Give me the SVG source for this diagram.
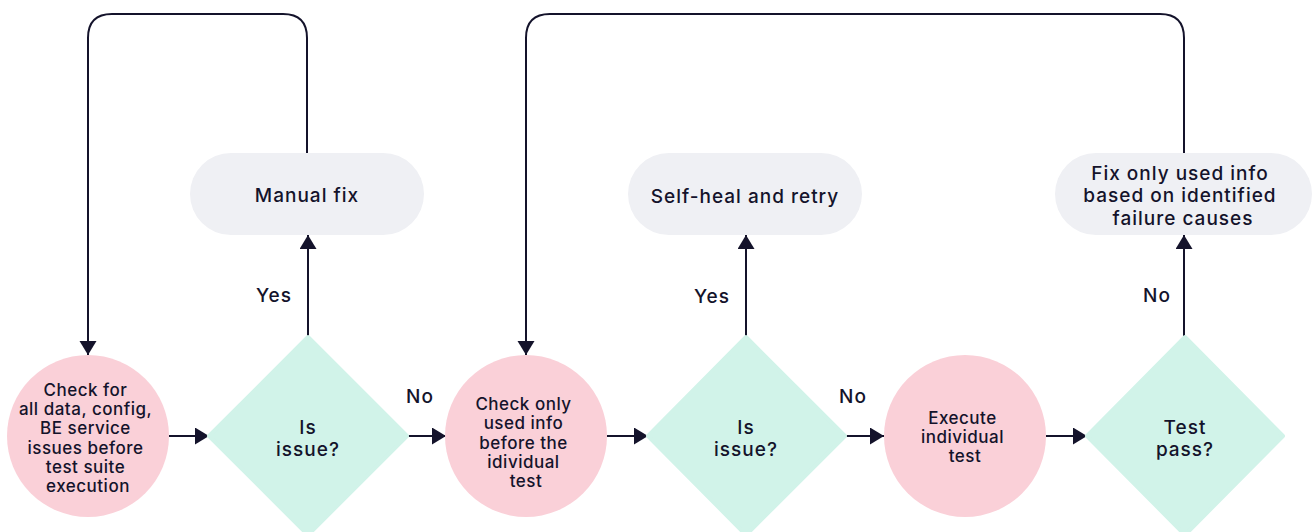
<svg xmlns="http://www.w3.org/2000/svg" width="1312" height="532" viewBox="0 0 1312 532">
  <style>
    .lbl { font-family: Inter, "Noto Sans", "Liberation Sans", sans-serif; font-weight: 500; fill: #14132b; text-anchor: middle; }
    .circ { fill: #fad0d8; }
    .dia { fill: #d1f3e9; stroke: #d1f3e9; stroke-width: 4; stroke-linejoin: round; }
    .pill { fill: #eff0f4; }
    .t15 { font-size: 17px; letter-spacing: 0.5px; }
    .t17 { font-size: 19px; letter-spacing: 1px; }
    .edge { fill: none; stroke: #14132b; stroke-width: 2; marker-end: url(#arrow); }
  </style>
  <defs>
    <marker id="arrow" markerUnits="userSpaceOnUse" markerWidth="15" markerHeight="18" refX="14" refY="8.5" orient="auto">
      <path d="M0,0 L14,8.5 L0,17 z" fill="#14132b"/>
    </marker>
  </defs>
  <rect width="1312" height="532" fill="#ffffff"/>

  <g id="connectors">
    <path class="edge" d="M169,436 H209"/>
    <path class="edge" d="M407,436 H446"/>
    <path class="edge" d="M607,436 H648"/>
    <path class="edge" d="M845,436 H884"/>
    <path class="edge" d="M1046,436 H1087"/>
    <path class="edge" d="M308,337 V235"/>
    <path class="edge" d="M746,337 V235"/>
    <path class="edge" d="M1184,337 V235"/>
    <path class="edge" d="M307,153 V38 Q307,14 283,14 H112 Q88,14 88,38 V355"/>
    <path class="edge" d="M1184,153 V38 Q1184,14 1160,14 H550 Q526,14 526,38 V355"/>
    <text class="lbl t17" x="274" y="302">Yes</text>
    <text class="lbl t17" x="712" y="303">Yes</text>
    <text class="lbl t17" x="1157" y="302">No</text>
    <text class="lbl t17" x="420" y="403">No</text>
    <text class="lbl t17" x="853" y="403">No</text>
  </g>

  <g id="check-all">
    <circle class="circ" cx="88" cy="436" r="81"/>
    <text class="lbl t15">
      <tspan x="88" y="396">Check for</tspan>
      <tspan x="88" y="415">all data, config,</tspan>
      <tspan x="88" y="434">BE service</tspan>
      <tspan x="88" y="454">issues before</tspan>
      <tspan x="88" y="473">test suite</tspan>
      <tspan x="88" y="492">execution</tspan>
    </text>
  </g>

  <g id="is-issue-1">
    <polygon class="dia" points="308,337 407,436 308,535 209,436"/>
    <text class="lbl t17"><tspan x="308" y="434">Is</tspan><tspan x="308" y="456">issue?</tspan></text>
  </g>

  <g id="manual-fix">
    <rect class="pill" x="190" y="153" width="234" height="82" rx="41"/>
    <text class="lbl t17" x="307" y="202">Manual fix</text>
  </g>

  <g id="check-used">
    <circle class="circ" cx="526" cy="436" r="81"/>
    <text class="lbl t15">
      <tspan x="526" y="410">Check only</tspan>
      <tspan x="526" y="429">used info</tspan>
      <tspan x="526" y="449">before the</tspan>
      <tspan x="526" y="468">idividual</tspan>
      <tspan x="526" y="487">test</tspan>
    </text>
  </g>

  <g id="is-issue-2">
    <polygon class="dia" points="746,337 845,436 746,535 648,436"/>
    <text class="lbl t17"><tspan x="746" y="434">Is</tspan><tspan x="746" y="456">issue?</tspan></text>
  </g>

  <g id="self-heal">
    <rect class="pill" x="628" y="153" width="234" height="82" rx="41"/>
    <text class="lbl t17" x="745" y="203">Self-heal and retry</text>
  </g>

  <g id="execute-test">
    <circle class="circ" cx="965" cy="436" r="81"/>
    <text class="lbl t15">
      <tspan x="965" y="424">Execute</tspan>
      <tspan x="965" y="443">individual</tspan>
      <tspan x="965" y="462">test</tspan>
    </text>
  </g>

  <g id="test-pass">
    <polygon class="dia" points="1185,337 1283,436 1185,535 1087,436"/>
    <text class="lbl t17"><tspan x="1185" y="434">Test</tspan><tspan x="1185" y="456">pass?</tspan></text>
  </g>

  <g id="fix-used">
    <rect class="pill" x="1055" y="153" width="257" height="82" rx="41"/>
    <text class="lbl t17">
      <tspan x="1183" y="180">Fix only used info</tspan>
      <tspan x="1183" y="202">based on identified</tspan>
      <tspan x="1183" y="225">failure causes</tspan>
    </text>
  </g>
</svg>
